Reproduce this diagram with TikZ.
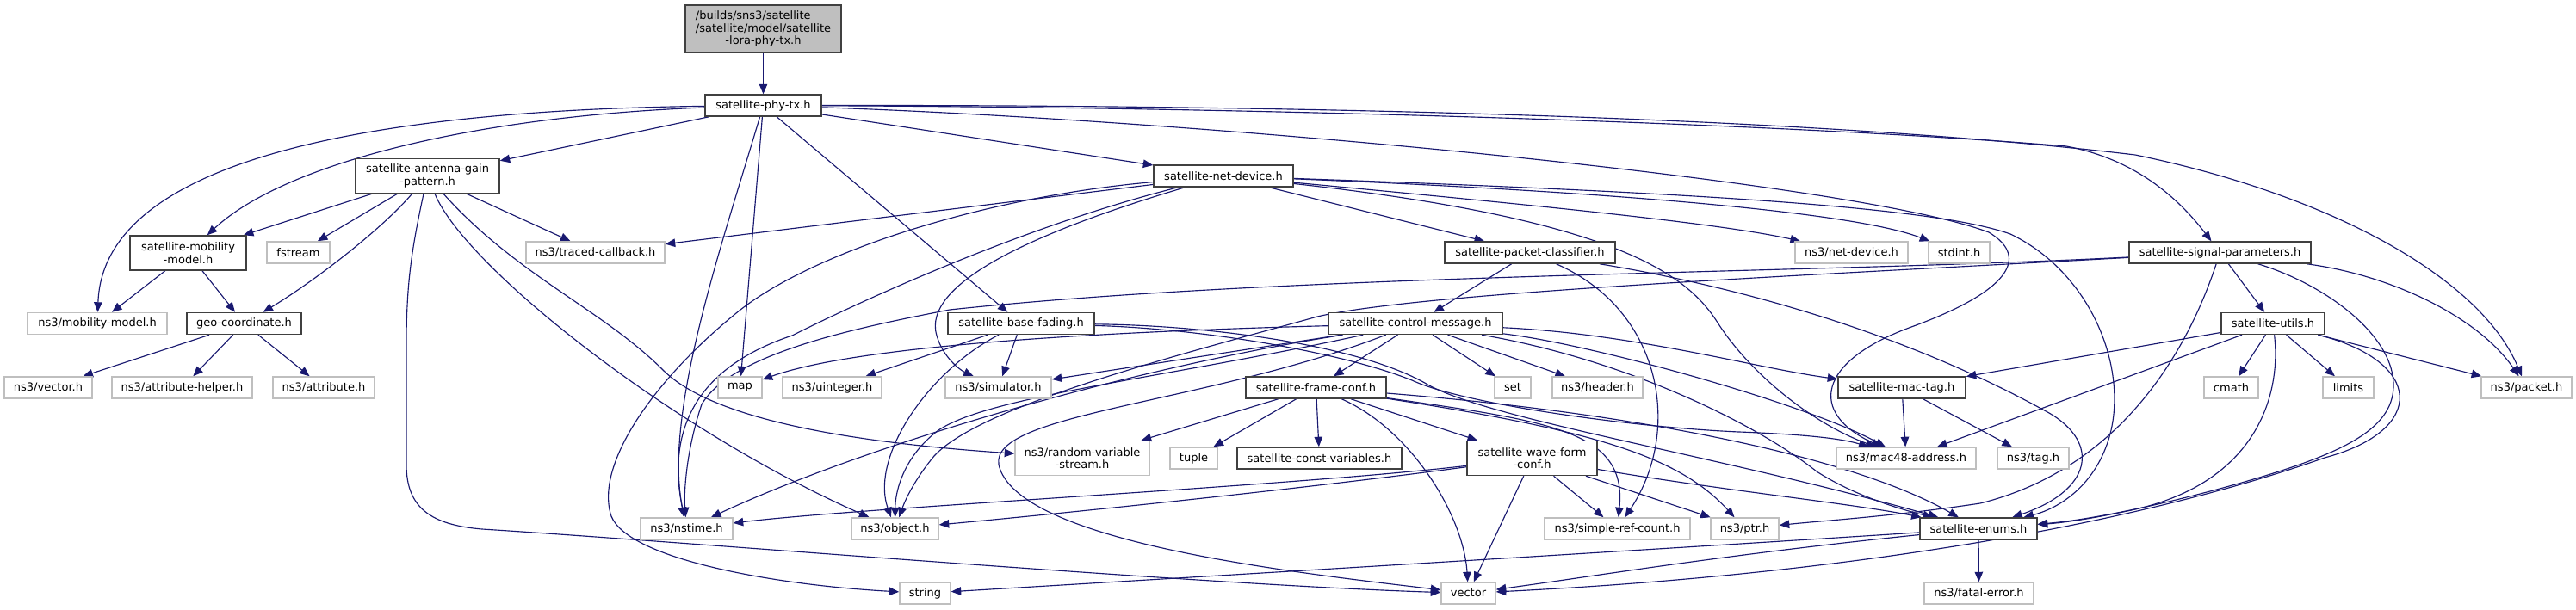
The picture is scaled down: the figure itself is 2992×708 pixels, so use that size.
\documentclass[tikz,border=0pt]{standalone}
\usepackage{fontspec}
\setmainfont{DejaVu Sans}
\usetikzlibrary{arrows.meta,backgrounds}
\definecolor{edgec}{HTML}{191970}
\definecolor{greyb}{HTML}{BFBFBF}
\definecolor{docb}{HTML}{404040}
\tikzset{
  nbase/.style={draw, line width=0.85pt, inner sep=0pt, fill=white,
    font=\fontsize{7.4}{8.2}\selectfont, align=center, minimum height=0.5cm},
  docbox/.style={nbase, draw=docb},
  extbox/.style={nbase, draw=greyb},
  rootbox/.style={nbase, draw=docb, fill=greyb, minimum height=1.1cm},
  wd/.style={minimum width=#1*0.02cm},
  twoline/.style={minimum height=0.8cm},
  inc/.style={draw=edgec, line width=0.65pt, -{Triangle[length=0.23cm,width=0.19cm]}}
}
\begin{document}
\begin{tikzpicture}[x=0.02cm,y=-0.02cm]
\useasboundingbox (0,0) rectangle (2992,708);
% nodes
\node[rootbox,wd=181] (root) at (886.5,33.5) {{\setbox0\hbox{/satellite/model/satellite}\makebox[\wd0][l]{/builds/sns3/satellite}}\\/satellite/model/satellite\\-lora-phy-tx.h};
\node[docbox,wd=135] (phytx) at (886.5,122.5) {satellite-phy-tx.h};
\node[docbox,wd=167,twoline] (ant) at (496.5,204.5) {satellite-antenna-gain\\-pattern.h};
\node[docbox,wd=162] (netdev) at (1421,204.5) {satellite-net-device.h};
\node[docbox,wd=135,twoline] (mob) at (218.5,294) {satellite-mobility\\-model.h};
\node[extbox,wd=73] (fstream) at (346.5,293.5) {fstream};
\node[extbox,wd=161] (traced) at (691.5,293.5) {ns3/traced-callback.h};
\node[docbox,wd=198] (pktcls) at (1777,293.5) {satellite-packet-classifier.h};
\node[extbox,wd=131] (netdevh) at (2150.5,293.5) {ns3/net-device.h};
\node[extbox,wd=71] (stdint) at (2275.5,293.5) {stdint.h};
\node[docbox,wd=211] (sigpar) at (2578.5,293.5) {satellite-signal-parameters.h};
\node[extbox,wd=162] (mobh) at (113,376) {ns3/mobility-model.h};
\node[docbox,wd=133] (geo) at (283.5,376) {geo-coordinate.h};
\node[docbox,wd=170] (fading) at (1186,376) {satellite-base-fading.h};
\node[docbox,wd=202] (ctrl) at (1644,376) {satellite-control-message.h};
\node[docbox,wd=120] (utils) at (2640,376) {satellite-utils.h};
\node[extbox,wd=102] (vectorh) at (56,450.5) {ns3/vector.h};
\node[extbox,wd=163] (attrhelp) at (211.5,450.5) {ns3/attribute-helper.h};
\node[extbox,wd=118] (attr) at (376,450.5) {ns3/attribute.h};
\node[extbox,wd=51] (map) at (859.5,450.5) {map};
\node[extbox,wd=115] (uint) at (966.5,450.5) {ns3/uinteger.h};
\node[extbox,wd=123] (sim) at (1159.5,450.5) {ns3/simulator.h};
\node[docbox,wd=163] (frame) at (1528.5,450.5) {satellite-frame-conf.h};
\node[extbox,wd=42] (set) at (1757,450.5) {set};
\node[extbox,wd=105] (header) at (1855.5,450.5) {ns3/header.h};
\node[docbox,wd=148] (mactag) at (2209,450.5) {satellite-mac-tag.h};
\node[extbox,wd=63] (cmath) at (2591.5,450.5) {cmath};
\node[extbox,wd=59] (limits) at (2727.5,450.5) {limits};
\node[extbox,wd=105] (packet) at (2934.5,450.5) {ns3/packet.h};
\node[extbox,wd=156,twoline] (rvs) at (1257,532.5) {ns3/random-variable\\-stream.h};
\node[extbox,wd=55] (tuple) at (1386.5,532.5) {tuple};
\node[docbox,wd=191] (constv) at (1532.5,532.5) {satellite-const-variables.h};
\node[docbox,wd=151,twoline] (wave) at (1779.5,532.5) {satellite-wave-form\\-conf.h};
\node[extbox,wd=162] (mac48) at (2214,532.5) {ns3/mac48-address.h};
\node[extbox,wd=83] (tag) at (2361.5,532.5) {ns3/tag.h};
\node[extbox,wd=107] (nstime) at (797.5,614.5) {ns3/nstime.h};
\node[extbox,wd=101] (object) at (1039.5,614.5) {ns3/object.h};
\node[extbox,wd=169] (src) at (1878.5,614.5) {ns3/simple-ref-count.h};
\node[extbox,wd=79] (ptr) at (2026.5,614.5) {ns3/ptr.h};
\node[docbox,wd=136] (enums) at (2298,614.5) {satellite-enums.h};
\node[extbox,wd=59] (string) at (1074.5,689.5) {string};
\node[extbox,wd=63] (vector) at (1705.5,689.5) {vector};
\node[extbox,wd=127] (fatal) at (2298.5,689.5) {ns3/fatal-error.h};
\begin{scope}[on background layer]
\fill[white] (0,0) rectangle (2992,708);
% edges: root / phy-tx
\draw[inc] (root) -- (phytx);
\draw[inc] (phytx) .. controls (450,128) and (120,180) .. (mobh);
\draw[inc] (phytx) .. controls (550,135) and (330,190) .. (mob);
\draw[inc] (phytx) -- (ant);
\draw[inc] (phytx) .. controls (840,280) and (770,480) .. (nstime);
\draw[inc] (phytx) -- (map);
\draw[inc] (phytx) -- (fading);
\draw[inc] (phytx) -- (netdev);
\draw[inc] (phytx) .. controls (1500,125) and (2100,145) .. (2400,170) .. controls (2480,185) and (2530,230) .. (sigpar);
\draw[inc] (phytx) .. controls (1500,122) and (2100,135) .. (2480,180) .. controls (2700,225) and (2880,320) .. (packet);
\draw[inc] (phytx) .. controls (1400,140) and (2150,210) .. (2310,270) .. controls (2360,300) and (2330,340) .. (2220,380) .. controls (2110,420) and (2100,480) .. (mac48);
% antenna
\draw[inc] (ant) -- (mob);
\draw[inc] (ant) -- (fstream);
\draw[inc] (ant) .. controls (440,270) and (360,330) .. (geo);
\draw[inc] (ant) -- (traced);
\draw[inc] (ant) .. controls (478,290) and (472,330) .. (472,400) -- (472,540) .. controls (472,590) and (500,610) .. (560,615) .. controls (800,630) and (1400,680) .. (vector);
\draw[inc] (ant) .. controls (540,310) and (780,500) .. (object);
\draw[inc] (ant) .. controls (600,320) and (700,360) .. (770,430) .. controls (830,490) and (1000,515) .. (rvs);
% mobility / geo
\draw[inc] (mob) -- (mobh);
\draw[inc] (mob) -- (geo);
\draw[inc] (geo) -- (vectorh);
\draw[inc] (geo) -- (attrhelp);
\draw[inc] (geo) -- (attr);
% net device
\draw[inc] (netdev) -- (traced);
\draw[inc] (netdev) .. controls (1150,228) and (950,290) .. (860,360) .. controls (760,440) and (690,540) .. (710,600) .. controls (730,650) and (900,680) .. (string);
\draw[inc] (netdev) .. controls (1200,260) and (1020,340) .. (920,390) .. controls (830,420) and (770,480) .. (nstime);
\draw[inc] (netdev) .. controls (1200,270) and (1070,330) .. (1088,390) .. controls (1095,415) and (1115,430) .. (sim);
\draw[inc] (netdev) -- (pktcls);
\draw[inc] (netdev) .. controls (1800,240) and (2000,260) .. (netdevh);
\draw[inc] (netdev) .. controls (1850,222) and (2150,245) .. (stdint);
\draw[inc] (netdev) .. controls (1880,255) and (1960,320) .. (1995,375) .. controls (2030,430) and (2100,490) .. (mac48);
\draw[inc] (netdev) .. controls (2000,225) and (2250,242) .. (2335,272) .. controls (2425,315) and (2470,420) .. (2452,500) .. controls (2438,560) and (2395,590) .. (enums);
% packet classifier
\draw[inc] (pktcls) -- (ctrl);
\draw[inc] (pktcls) .. controls (1930,360) and (1955,500) .. (src);
\draw[inc] (pktcls) .. controls (2000,330) and (2200,380) .. (2380,480) .. controls (2440,515) and (2430,570) .. (enums);
% base fading
\draw[inc] (fading) -- (uint);
\draw[inc] (fading) -- (sim);
\draw[inc] (fading) .. controls (1080,430) and (1010,530) .. (object);
\draw[inc] (fading) .. controls (1400,382) and (1560,410) .. (1640,442) .. controls (1700,470) and (1900,497) .. (2020,502) .. controls (2100,505) and (2140,510) .. (mac48);
\draw[inc] (fading) .. controls (1400,378) and (1580,400) .. (1660,448) .. controls (1740,490) and (2000,530) .. (enums);
% control message
\draw[inc] (ctrl) -- (frame);
\draw[inc] (ctrl) -- (set);
\draw[inc] (ctrl) -- (header);
\draw[inc] (ctrl) .. controls (1900,388) and (2040,428) .. (mactag);
\draw[inc] (ctrl) .. controls (1850,400) and (2100,470) .. (mac48);
\draw[inc] (ctrl) .. controls (1900,420) and (2050,500) .. (2110,548) .. controls (2160,580) and (2220,595) .. (enums);
\draw[inc] (ctrl) .. controls (1300,385) and (1000,400) .. (map);
\draw[inc] (ctrl) -- (sim);
\draw[inc] (ctrl) .. controls (1350,440) and (1150,460) .. (1090,500) .. controls (1050,530) and (1040,570) .. (object);
\draw[inc] (ctrl) .. controls (1300,430) and (1000,520) .. (nstime);
\draw[inc] (ctrl) .. controls (1400,470) and (1150,480) .. (1160,540) .. controls (1180,630) and (1500,665) .. (vector);
% frame conf
\draw[inc] (frame) -- (rvs);
\draw[inc] (frame) -- (tuple);
\draw[inc] (frame) -- (constv);
\draw[inc] (frame) -- (wave);
\draw[inc] (frame) .. controls (1640,500) and (1700,600) .. (vector);
\draw[inc] (frame) .. controls (1800,490) and (1890,500) .. (src);
\draw[inc] (frame) .. controls (1850,500) and (1950,530) .. (ptr);
\draw[inc] (frame) .. controls (1900,480) and (2150,530) .. (enums);
% wave form
\draw[inc] (wave) .. controls (1500,565) and (1000,590) .. (nstime);
\draw[inc] (wave) .. controls (1500,570) and (1200,600) .. (object);
\draw[inc] (wave) -- (vector);
\draw[inc] (wave) -- (src);
\draw[inc] (wave) -- (ptr);
\draw[inc] (wave) .. controls (2000,570) and (2150,585) .. (enums);
% signal parameters
\draw[inc] (sigpar) .. controls (2100,318) and (1500,318) .. (1103,360) .. controls (1000,380) and (850,410) .. (815,470) .. controls (798,520) and (794,570) .. (nstime);
\draw[inc] (sigpar) .. controls (2100,320) and (1650,340) .. (1530,368) .. controls (1380,410) and (1140,470) .. (1085,530) .. controls (1060,560) and (1050,585) .. (object);
\draw[inc] (sigpar) -- (utils);
\draw[inc] (sigpar) .. controls (2780,320) and (2880,370) .. (packet);
\draw[inc] (sigpar) .. controls (2550,380) and (2480,540) .. (2300,585) .. controls (2200,600) and (2120,605) .. (ptr);
\draw[inc] (sigpar) .. controls (2700,330) and (2782,390) .. (2780,450) .. controls (2778,500) and (2720,528) .. (2600,562) .. controls (2500,590) and (2420,605) .. (enums);
% utils
\draw[inc] (utils) -- (mactag);
\draw[inc] (utils) -- (mac48);
\draw[inc] (utils) -- (cmath);
\draw[inc] (utils) -- (limits);
\draw[inc] (utils) -- (packet);
\draw[inc] (utils) .. controls (2650,460) and (2620,560) .. (2480,592) .. controls (2420,605) and (2390,608) .. (enums);
\draw[inc] (utils) .. controls (2815,420) and (2820,500) .. (2700,532) .. controls (2450,620) and (2100,670) .. (vector);
% mac tag / enums
\draw[inc] (mactag) -- (mac48);
\draw[inc] (mactag) -- (tag);
\draw[inc] (enums) -- (fatal);
\draw[inc] (enums) .. controls (1900,640) and (1400,670) .. (string);
\draw[inc] (enums) .. controls (2000,645) and (1850,670) .. (vector);
\end{scope}
\end{tikzpicture}
\end{document}
